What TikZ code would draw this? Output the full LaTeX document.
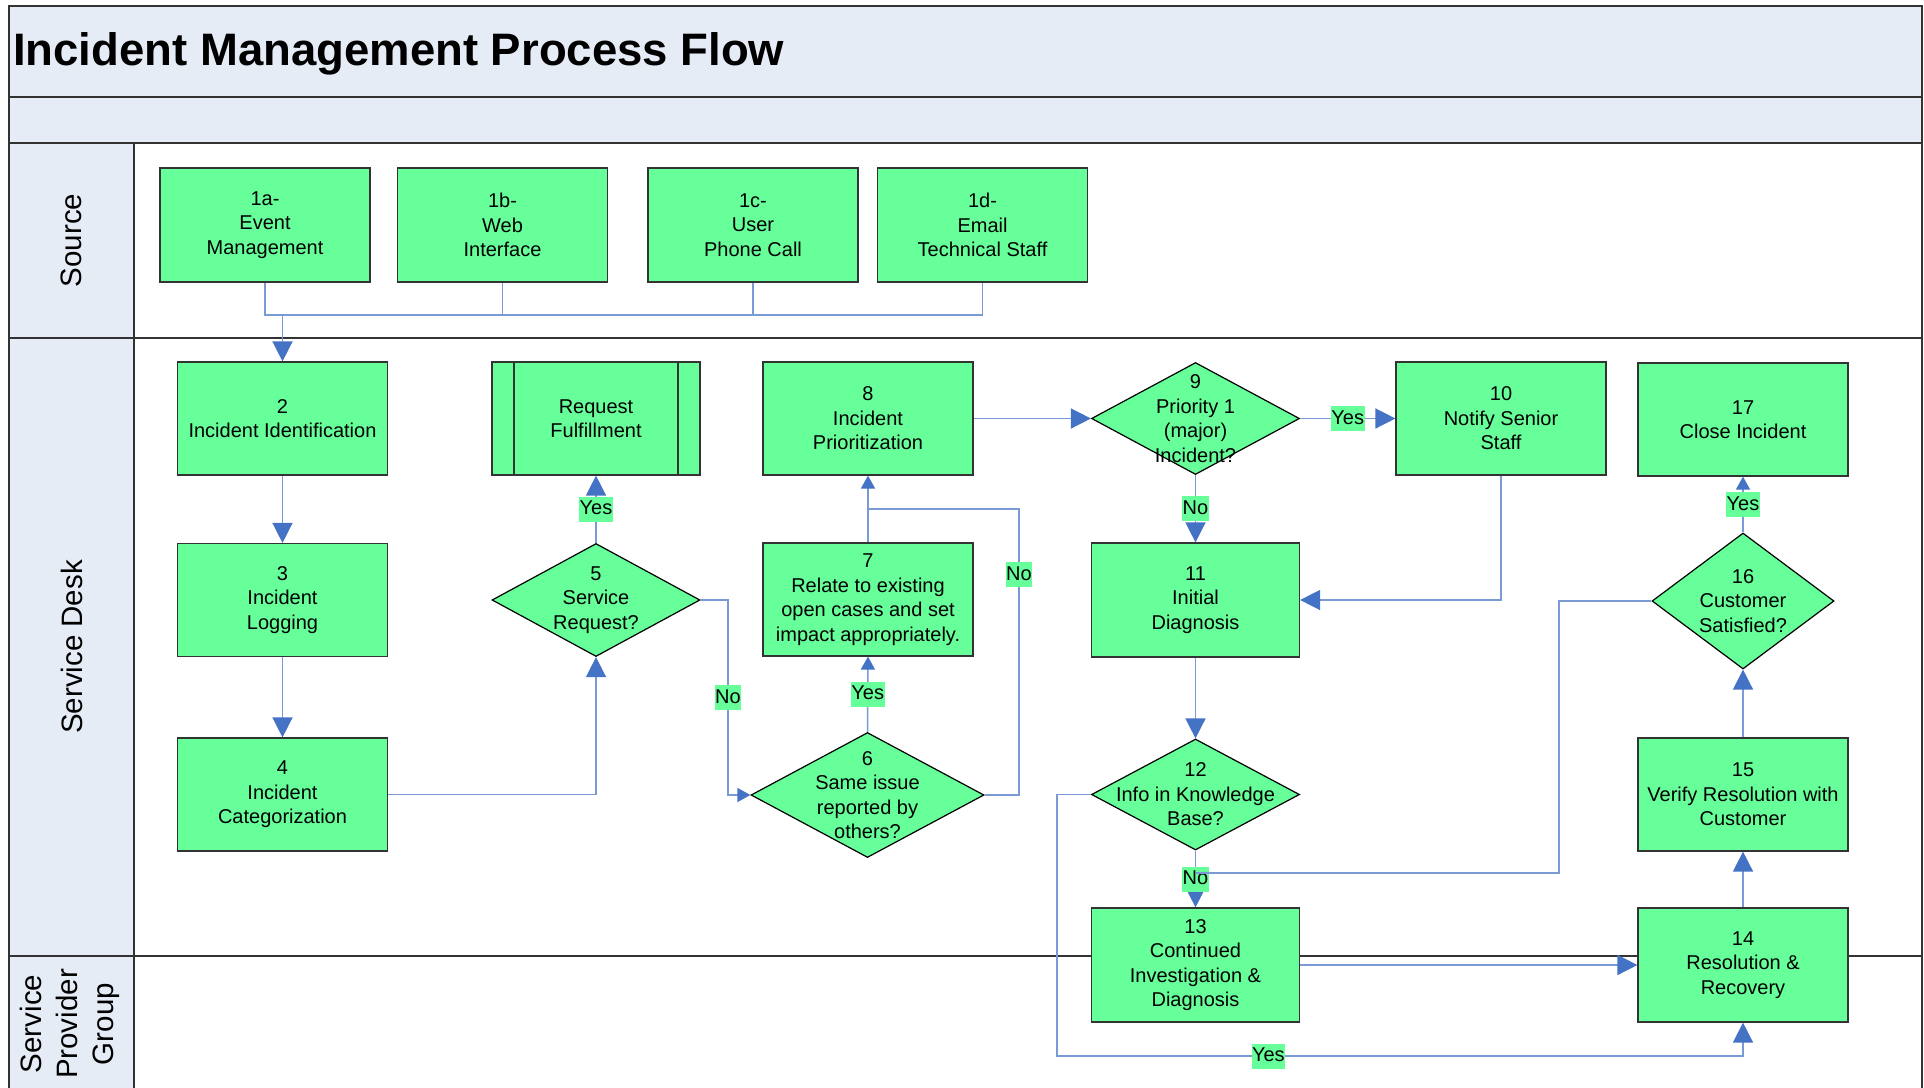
\documentclass[tikz,border=0pt]{standalone}
\usepackage{fontspec}
\setmainfont{Liberation Sans}
\usetikzlibrary{arrows.meta,shapes.geometric}
\definecolor{greenhue}{RGB}{102, 255, 153}
\definecolor{bluehue}{RGB}{68, 114, 196}
\definecolor{linehue}{RGB}{122, 154, 214}
\definecolor{lanehue}{RGB}{230, 236, 246}
\definecolor{edgehue}{RGB}{51, 51, 51}

\begin{document}
\begin{tikzpicture}[
    x=1pt,
    y=-1pt,
    box/.style={draw=edgehue, line width=1.2pt, fill=greenhue, minimum width=210pt, minimum height=113pt, inner sep=2pt, align=center, font=\fontsize{20}{24.5}\selectfont},
    subproc/.style={box, path picture={
        \draw[edgehue, line width=1.2pt] ([xshift=22pt]path picture bounding box.north west) -- ([xshift=22pt]path picture bounding box.south west);
        \draw[edgehue, line width=1.2pt] ([xshift=-22pt]path picture bounding box.north east) -- ([xshift=-22pt]path picture bounding box.south east);
    }},
    decision/.style={diamond, draw=black, line width=1.2pt, fill=greenhue, inner sep=0pt},
    dectext/.style={align=center, inner sep=0pt, font=\fontsize{20}{24.5}\selectfont},
    flow/.style={draw=linehue, line width=1.5pt},
    arrbig/.style={flow, -{Triangle[length=20pt, width=20pt, color=bluehue]}},
    arrsmall/.style={flow, -{Triangle[length=13pt, width=14pt, color=bluehue]}},
    yn/.style={fill=greenhue, inner xsep=0.5pt, inner ysep=2pt, text height=16pt, text depth=5pt, font=\fontsize{20}{24}\selectfont},
    laneline/.style={draw=edgehue, line width=1.5pt},
    lanetext/.style={rotate=90, align=center, font=\fontsize{29.5}{36}\selectfont},
]
    \useasboundingbox (0,0) rectangle (1924,1087);
    \fill[lanehue] (9,6) rectangle (1922,143);
    \fill[lanehue] (9,143) rectangle (134,1095);
    \draw[laneline] (9,1095) -- (9,6) -- (1922,6) -- (1922,1095);
    \foreach \y in {97,143,338,956}
        \draw[laneline] (9,\y) -- (1922,\y);
    \draw[laneline] (134,143) -- (134,1095);

    \node[anchor=base west, inner sep=0pt, font=\fontsize{45.5}{50}\selectfont\bfseries] (title) at (13,65) {Incident Management Process Flow};
    \node[lanetext] (lsrc) at (71.5,240.5) {Source};
    \node[lanetext] (ldesk) at (71.5,647) {Service Desk};
    \node[lanetext] (lgroup) at (70,1024) {Service\\Provider\\Group};

    \node[box, minimum height=114pt] (s1a) at (265,225) {1a-\\Event\\Management};
    \node[box, minimum height=114pt] (s1b) at (502.5,225) {1b-\\Web\\Interface};
    \node[box, minimum height=114pt] (s1c) at (753,225) {1c-\\User\\Phone Call};
    \node[box, minimum height=114pt] (s1d) at (982.5,225) {1d-\\Email\\Technical Staff};

    \node[box] (n2) at (282.5,418.5) {2\\Incident Identification};
    \node[box] (n3) at (282.5,600) {3\\Incident\\Logging};
    \node[box] (n4) at (282.5,794.5) {4\\Incident\\Categorization};
    \node[subproc, minimum width=208pt] (rf) at (596,418.5) {Request\\Fulfillment};
    \node[decision, minimum width=208pt, minimum height=113pt, label={[dectext]center:{5\\Service\\Request?}}] (d5) at (596,600) {};
    \node[decision, minimum width=233pt, minimum height=125pt, label={[dectext]center:{6\\Same issue\\reported by\\others?}}] (d6) at (867.5,795) {};
    \node[box] (n7) at (868,599.5) {7\\Relate to existing\\open cases and set\\impact appropriately.};
    \node[box] (n8) at (868,418.5) {8\\Incident\\Prioritization};
    \node[decision, minimum width=208pt, minimum height=112pt, label={[dectext]center:{9\\Priority 1\\(major)\\Incident?}}] (d9) at (1195.5,418.5) {};
    \node[box] (n10) at (1501,418.5) {10\\Notify Senior\\Staff};
    \node[box, minimum width=208pt, minimum height=114pt] (n11) at (1195.5,600) {11\\Initial\\Diagnosis};
    \node[decision, minimum width=208pt, minimum height=111pt, label={[dectext]center:{12\\Info in Knowledge\\Base?}}] (d12) at (1195.5,794.5) {};
    \node[box, minimum width=208pt, minimum height=114pt] (n13) at (1195.5,965) {13\\Continued\\Investigation \&\\Diagnosis};
    \node[box, minimum height=114pt] (n14) at (1743,965) {14\\Resolution \&\\Recovery};
    \node[box] (n15) at (1743,794.5) {15\\Verify Resolution with\\Customer};
    \node[decision, minimum width=182pt, minimum height=136pt, label={[dectext]center:{16\\Customer\\Satisfied?}}] (d16) at (1743,601) {};
    \node[box] (n17) at (1743,419.5) {17\\Close Incident};

    \coordinate (bus) at (282.5,315);
    \coordinate (no5) at (728,600);
    \coordinate (loop6) at (1019,509);
    \coordinate (loop16) at (1559,873);
    \coordinate (loop12) at (1057,1056);

    \draw[flow] (s1a.south) |- (bus) -| (s1d.south);
    \draw[flow] (s1b.south) -- (s1b.south |- bus);
    \draw[flow] (s1c.south) -- (s1c.south |- bus);
    \draw[arrbig] (bus) -- (n2.north);
    \draw[arrbig] (n2) -- (n3);
    \draw[arrbig] (n3) -- (n4);
    \draw[arrbig] (n4.east) -| (d5.south);
    \draw[arrbig] (d5.north) -- (rf.south) node[yn, midway] (y5) {Yes};
    \draw[arrsmall] (d5.east) -- (no5) |- (d6.west) node[yn, pos=0.25] (x5) {No};
    \draw[arrsmall] (d6.north) -- (n7.south) node[yn, midway] (y6) {Yes};
    \draw[arrsmall] (n7.north) -- (n8.south);
    \draw[flow] (d6.east) -| node[yn, pos=0.885] (x6) {No} (loop6) -- (loop6 -| n8.south);
    \draw[arrbig] (n8.east) -- (d9.west);
    \draw[arrbig] (d9.east) -- (n10.west) node[yn, midway] (y9) {Yes};
    \draw[arrbig] (d9.south) -- (n11.north) node[yn, midway] (x9) {No};
    \draw[arrbig] (n10.south) |- (n11.east);
    \draw[arrbig] (n11.south) -- (d12.north);
    \draw[arrbig] (d12.south) -- (n13.north) node[yn, midway] (x12) {No};
    \draw[flow] (d16.west) -| (loop16) -- (loop16 -| n13.north);
    \draw[arrbig] (d12.west) -| (loop12) -| node[yn, pos=0.154] (y12) {Yes} (n14.south);
    \draw[arrbig] (n13.east) -- (n14.west);
    \draw[arrbig] (n14) -- (n15);
    \draw[arrbig] (n15) -- (d16);
    \draw[arrsmall] (d16) -- (n17) node[yn, midway] (y16) {Yes};
\end{tikzpicture}
\end{document}
